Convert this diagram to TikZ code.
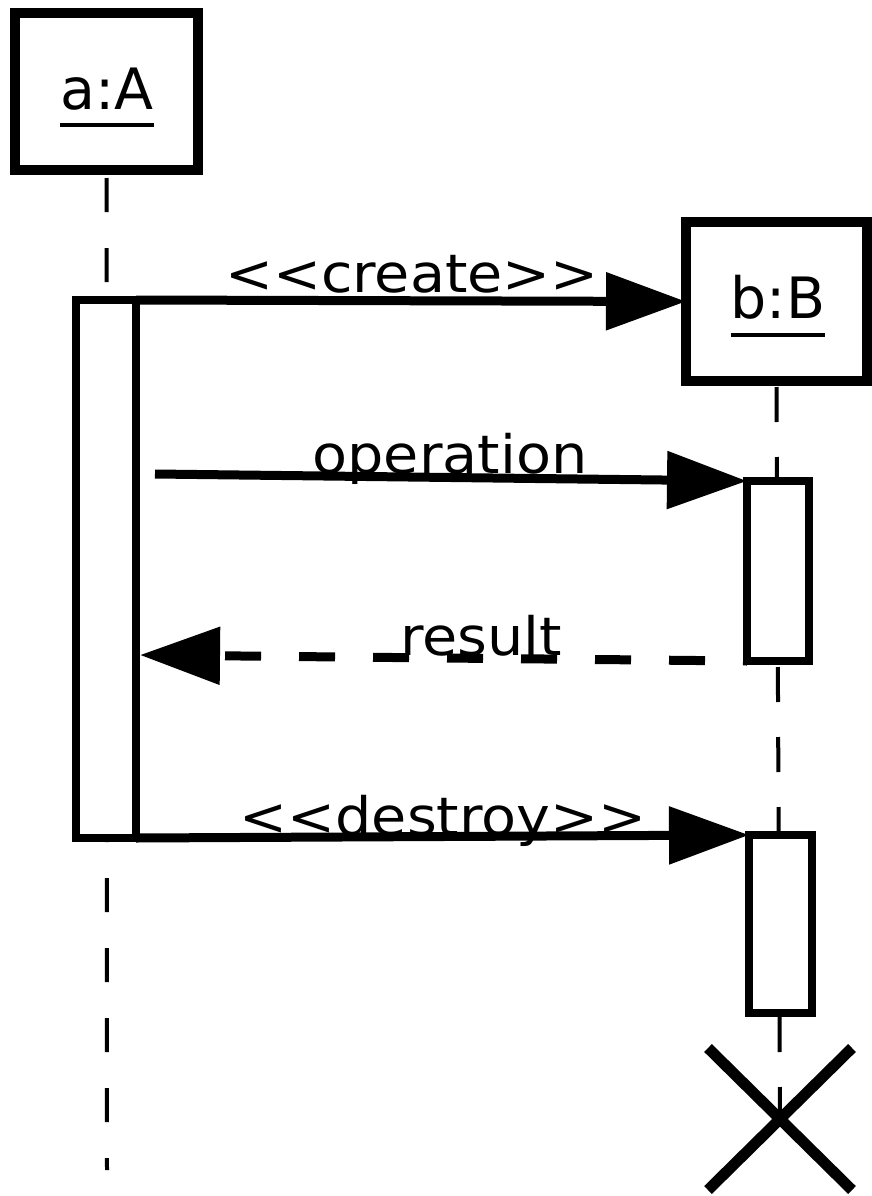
\documentclass[tikz,border=0pt]{standalone}
\usepackage{fontspec}
\setmainfont{DejaVu Sans}
\newfontfamily\lblfont[FakeStretch=1.08]{DejaVu Sans}
\usetikzlibrary{arrows.meta,shapes.misc,backgrounds}
\newcommand\umlname[2]{\leavevmode\vtop{\hbox{#2}\kern#1\hrule height 4.5pt}}
\begin{document}
\begin{tikzpicture}[x=1pt,y=-1pt,
  objbox/.style={draw, fill=white, line width=10pt, inner sep=0pt, outer sep=0pt},
  actbox/.style={draw, fill=white, line width=8pt, inner sep=0pt, outer sep=0pt},
  lifeline/.style={line width=4pt},
  msg/.style={line width=9pt, -{Triangle[length=80pt,width=56pt]}},
  reply/.style={msg, dash pattern=on 36pt off 38pt, dash phase=32pt},
  objname/.style={font=\fontsize{57}{64}\selectfont, inner sep=0pt, anchor=base},
  msglabel/.style={font=\lblfont\fontsize{53}{60}\selectfont, inner sep=0pt, anchor=base},
  destroymark/.style={cross out, draw, line width=11pt, minimum width=144pt, minimum height=142pt, inner sep=0pt, outer sep=0pt}
]
\useasboundingbox (0,0) rectangle (872,1196);
% objects
\node[objbox, minimum width=183pt, minimum height=157pt] (aA) at (106.5,91.5) {};
\node[objbox, minimum width=181pt, minimum height=159pt] (bB) at (776.5,301.5) {};
\node[objname] (aAlbl) at (107,110) {\umlname{12pt}{a:A}};
\node[objname] (bBlbl) at (778,318) {\umlname{14pt}{b:B}};
% activations
\node[actbox, minimum width=60pt, minimum height=538pt] (actA) at (106,569) {};
\node[actbox, minimum width=62pt, minimum height=180pt] (actB1) at (778,571) {};
\node[actbox, minimum width=63pt, minimum height=178pt] (actB2) at (780.5,924) {};
% destruction
\node[destroymark] (destroyX) at (780,1119) {};
% lifelines
\coordinate (lifeAend) at (107,1170);
\begin{pgfonlayer}{background}
\draw[lifeline, dash pattern=on 34pt off 36pt, dash phase=62pt] (aA.south) -- (lifeAend);
\draw[lifeline, dash pattern=on 35pt off 35pt, dash phase=64pt] (bB.south) -- (destroyX.center);
\end{pgfonlayer}
% messages
\coordinate (opStart) at (155,474);
\coordinate (resEnd) at (140,655);
\draw[msg] (actA.north east) -- (bB.west);
\draw[msg] (opStart) -- (actB1.north west);
\draw[reply] (actB1.south west) -- (resEnd);
\draw[msg] (actA.south east) -- (actB2.north west);
% labels
\node[msglabel] (lcreate) at (412,292) {<{}<create>{}>};
\node[msglabel] (lop) at (450,473) {operation};
\node[msglabel] (lres) at (481,655) {result};
\node[msglabel] (ldes) at (443,835) {<{}<destroy>{}>};
\end{tikzpicture}
\end{document}
